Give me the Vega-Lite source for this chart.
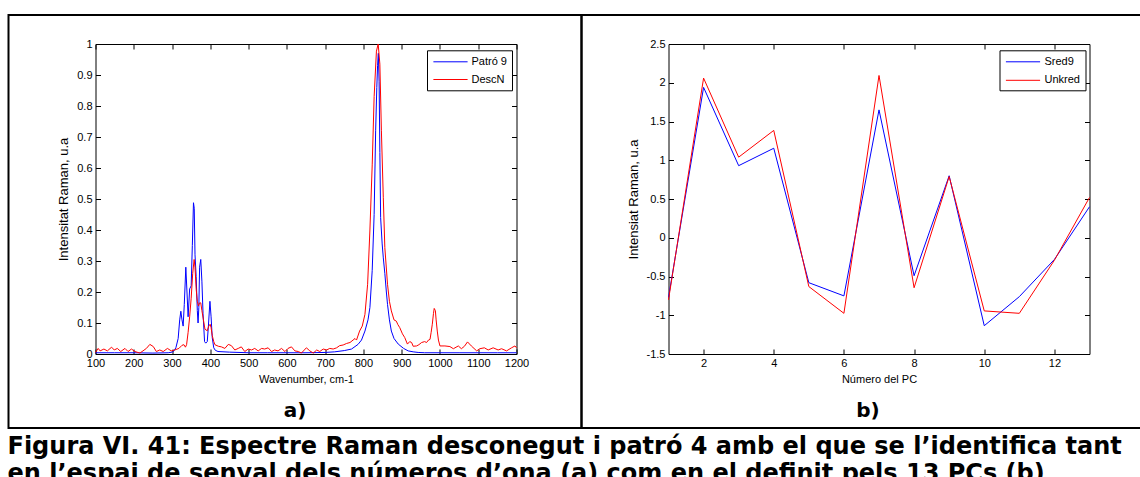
{
  "$schema": "https://vega.github.io/schema/vega-lite/v6.json",
  "padding": {"left": 7.5, "top": 14, "right": 0, "bottom": 0},
  "bounds": "flush",
  "spacing": 0,
  "title": {
    "text": ["Figura VI. 41: Espectre Raman desconegut i patró 4 amb el que se l’identifica tant", "en  l’espai de senyal dels números d’ona (a) com en el definit pels 13 PCs (b)"],
    "orient": "bottom", "anchor": "start", "offset": 6, "font": "DejaVu Sans", "fontSize": 24, "fontWeight": "bold", "color": "black", "lineHeight": 27
  },
  "resolve": {"scale": {"color": "independent"}, "legend": {"color": "independent"}},
  "datasets": {
    "spectra": [
      {"w": 100, "v": 0.004, "s": "Patró 9"}, {"w": 150, "v": 0.004, "s": "Patró 9"}, {"w": 200, "v": 0.004, "s": "Patró 9"}, {"w": 250, "v": 0.003, "s": "Patró 9"}, {"w": 290, "v": 0.004, "s": "Patró 9"}, {"w": 300, "v": 0.006, "s": "Patró 9"}, {"w": 305, "v": 0.01, "s": "Patró 9"}, {"w": 310, "v": 0.02, "s": "Patró 9"}, {"w": 316, "v": 0.05, "s": "Patró 9"}, {"w": 320, "v": 0.11, "s": "Patró 9"}, {"w": 323, "v": 0.138, "s": "Patró 9"}, {"w": 326, "v": 0.11, "s": "Patró 9"}, {"w": 329, "v": 0.09, "s": "Patró 9"}, {"w": 332, "v": 0.16, "s": "Patró 9"}, {"w": 336, "v": 0.28, "s": "Patró 9"}, {"w": 339, "v": 0.2, "s": "Patró 9"}, {"w": 342, "v": 0.12, "s": "Patró 9"}, {"w": 346, "v": 0.21, "s": "Patró 9"}, {"w": 350, "v": 0.22, "s": "Patró 9"}, {"w": 353, "v": 0.35, "s": "Patró 9"}, {"w": 356, "v": 0.488, "s": "Patró 9"}, {"w": 358, "v": 0.47, "s": "Patró 9"}, {"w": 360, "v": 0.32, "s": "Patró 9"}, {"w": 363, "v": 0.25, "s": "Patró 9"}, {"w": 366, "v": 0.14, "s": "Patró 9"}, {"w": 368, "v": 0.1, "s": "Patró 9"}, {"w": 370, "v": 0.15, "s": "Patró 9"}, {"w": 372, "v": 0.28, "s": "Patró 9"}, {"w": 375, "v": 0.305, "s": "Patró 9"}, {"w": 378, "v": 0.235, "s": "Patró 9"}, {"w": 381, "v": 0.13, "s": "Patró 9"}, {"w": 385, "v": 0.04, "s": "Patró 9"}, {"w": 388, "v": 0.035, "s": "Patró 9"}, {"w": 392, "v": 0.04, "s": "Patró 9"}, {"w": 395, "v": 0.09, "s": "Patró 9"}, {"w": 399, "v": 0.17, "s": "Patró 9"}, {"w": 402, "v": 0.12, "s": "Patró 9"}, {"w": 405, "v": 0.053, "s": "Patró 9"}, {"w": 409, "v": 0.02, "s": "Patró 9"}, {"w": 413, "v": 0.012, "s": "Patró 9"}, {"w": 420, "v": 0.008, "s": "Patró 9"}, {"w": 450, "v": 0.006, "s": "Patró 9"}, {"w": 500, "v": 0.004, "s": "Patró 9"}, {"w": 550, "v": 0.004, "s": "Patró 9"}, {"w": 600, "v": 0.004, "s": "Patró 9"}, {"w": 650, "v": 0.004, "s": "Patró 9"}, {"w": 700, "v": 0.005, "s": "Patró 9"}, {"w": 725, "v": 0.007, "s": "Patró 9"}, {"w": 750, "v": 0.011, "s": "Patró 9"}, {"w": 769, "v": 0.016, "s": "Patró 9"}, {"w": 786, "v": 0.031, "s": "Patró 9"}, {"w": 795, "v": 0.045, "s": "Patró 9"}, {"w": 804, "v": 0.074, "s": "Patró 9"}, {"w": 812, "v": 0.11, "s": "Patró 9"}, {"w": 817, "v": 0.15, "s": "Patró 9"}, {"w": 823, "v": 0.27, "s": "Patró 9"}, {"w": 828, "v": 0.45, "s": "Patró 9"}, {"w": 832, "v": 0.72, "s": "Patró 9"}, {"w": 835, "v": 0.86, "s": "Patró 9"}, {"w": 837, "v": 0.93, "s": "Patró 9"}, {"w": 839, "v": 0.97, "s": "Patró 9"}, {"w": 841, "v": 0.88, "s": "Patró 9"}, {"w": 843, "v": 0.65, "s": "Patró 9"}, {"w": 845, "v": 0.44, "s": "Patró 9"}, {"w": 849, "v": 0.355, "s": "Patró 9"}, {"w": 852, "v": 0.31, "s": "Patró 9"}, {"w": 856, "v": 0.26, "s": "Patró 9"}, {"w": 860, "v": 0.2, "s": "Patró 9"}, {"w": 863, "v": 0.16, "s": "Patró 9"}, {"w": 868, "v": 0.11, "s": "Patró 9"}, {"w": 873, "v": 0.074, "s": "Patró 9"}, {"w": 880, "v": 0.05, "s": "Patró 9"}, {"w": 891, "v": 0.032, "s": "Patró 9"}, {"w": 905, "v": 0.018, "s": "Patró 9"}, {"w": 917, "v": 0.01, "s": "Patró 9"}, {"w": 930, "v": 0.007, "s": "Patró 9"}, {"w": 943, "v": 0.005, "s": "Patró 9"}, {"w": 960, "v": 0.004, "s": "Patró 9"}, {"w": 1000, "v": 0.004, "s": "Patró 9"}, {"w": 1050, "v": 0.004, "s": "Patró 9"}, {"w": 1100, "v": 0.004, "s": "Patró 9"}, {"w": 1150, "v": 0.004, "s": "Patró 9"}, {"w": 1200, "v": 0.004, "s": "Patró 9"},
      {"w": 100, "v": 0.005, "s": "DescN"}, {"w": 107, "v": 0.018, "s": "DescN"}, {"w": 112, "v": 0.01, "s": "DescN"}, {"w": 122, "v": 0.016, "s": "DescN"}, {"w": 131, "v": 0.01, "s": "DescN"}, {"w": 142, "v": 0.022, "s": "DescN"}, {"w": 149, "v": 0.013, "s": "DescN"}, {"w": 157, "v": 0.018, "s": "DescN"}, {"w": 166, "v": 0.008, "s": "DescN"}, {"w": 177, "v": 0.018, "s": "DescN"}, {"w": 185, "v": 0.008, "s": "DescN"}, {"w": 194, "v": 0.016, "s": "DescN"}, {"w": 203, "v": 0.008, "s": "DescN"}, {"w": 216, "v": 0.003, "s": "DescN"}, {"w": 224, "v": 0.01, "s": "DescN"}, {"w": 233, "v": 0.018, "s": "DescN"}, {"w": 242, "v": 0.031, "s": "DescN"}, {"w": 251, "v": 0.024, "s": "DescN"}, {"w": 259, "v": 0.008, "s": "DescN"}, {"w": 268, "v": 0.013, "s": "DescN"}, {"w": 277, "v": 0.008, "s": "DescN"}, {"w": 288, "v": 0.018, "s": "DescN"}, {"w": 298, "v": 0.01, "s": "DescN"}, {"w": 307, "v": 0.013, "s": "DescN"}, {"w": 318, "v": 0.018, "s": "DescN"}, {"w": 326, "v": 0.028, "s": "DescN"}, {"w": 331, "v": 0.03, "s": "DescN"}, {"w": 335, "v": 0.022, "s": "DescN"}, {"w": 338, "v": 0.03, "s": "DescN"}, {"w": 342, "v": 0.07, "s": "DescN"}, {"w": 346, "v": 0.12, "s": "DescN"}, {"w": 350, "v": 0.18, "s": "DescN"}, {"w": 354, "v": 0.26, "s": "DescN"}, {"w": 357.7, "v": 0.305, "s": "DescN"}, {"w": 360, "v": 0.28, "s": "DescN"}, {"w": 363, "v": 0.21, "s": "DescN"}, {"w": 366, "v": 0.17, "s": "DescN"}, {"w": 369, "v": 0.155, "s": "DescN"}, {"w": 372, "v": 0.165, "s": "DescN"}, {"w": 375, "v": 0.165, "s": "DescN"}, {"w": 378, "v": 0.14, "s": "DescN"}, {"w": 382, "v": 0.11, "s": "DescN"}, {"w": 386, "v": 0.08, "s": "DescN"}, {"w": 392, "v": 0.075, "s": "DescN"}, {"w": 396, "v": 0.09, "s": "DescN"}, {"w": 399.5, "v": 0.096, "s": "DescN"}, {"w": 402, "v": 0.085, "s": "DescN"}, {"w": 405, "v": 0.06, "s": "DescN"}, {"w": 409, "v": 0.04, "s": "DescN"}, {"w": 412, "v": 0.03, "s": "DescN"}, {"w": 421, "v": 0.025, "s": "DescN"}, {"w": 429, "v": 0.023, "s": "DescN"}, {"w": 438, "v": 0.018, "s": "DescN"}, {"w": 447, "v": 0.031, "s": "DescN"}, {"w": 455, "v": 0.027, "s": "DescN"}, {"w": 464, "v": 0.013, "s": "DescN"}, {"w": 473, "v": 0.018, "s": "DescN"}, {"w": 481, "v": 0.023, "s": "DescN"}, {"w": 490, "v": 0.008, "s": "DescN"}, {"w": 499, "v": 0.016, "s": "DescN"}, {"w": 508, "v": 0.013, "s": "DescN"}, {"w": 516, "v": 0.018, "s": "DescN"}, {"w": 525, "v": 0.01, "s": "DescN"}, {"w": 534, "v": 0.018, "s": "DescN"}, {"w": 542, "v": 0.016, "s": "DescN"}, {"w": 551, "v": 0.02, "s": "DescN"}, {"w": 560, "v": 0.008, "s": "DescN"}, {"w": 568, "v": 0.013, "s": "DescN"}, {"w": 577, "v": 0.01, "s": "DescN"}, {"w": 586, "v": 0.018, "s": "DescN"}, {"w": 595, "v": 0.008, "s": "DescN"}, {"w": 603, "v": 0.018, "s": "DescN"}, {"w": 612, "v": 0.023, "s": "DescN"}, {"w": 621, "v": 0.01, "s": "DescN"}, {"w": 630, "v": 0.008, "s": "DescN"}, {"w": 638, "v": 0.003, "s": "DescN"}, {"w": 651, "v": 0.02, "s": "DescN"}, {"w": 660, "v": 0.01, "s": "DescN"}, {"w": 669, "v": 0.003, "s": "DescN"}, {"w": 678, "v": 0.013, "s": "DescN"}, {"w": 686, "v": 0.008, "s": "DescN"}, {"w": 695, "v": 0.016, "s": "DescN"}, {"w": 704, "v": 0.013, "s": "DescN"}, {"w": 712, "v": 0.018, "s": "DescN"}, {"w": 721, "v": 0.016, "s": "DescN"}, {"w": 730, "v": 0.02, "s": "DescN"}, {"w": 738, "v": 0.027, "s": "DescN"}, {"w": 747, "v": 0.029, "s": "DescN"}, {"w": 756, "v": 0.034, "s": "DescN"}, {"w": 765, "v": 0.037, "s": "DescN"}, {"w": 773, "v": 0.045, "s": "DescN"}, {"w": 778, "v": 0.05, "s": "DescN"}, {"w": 782, "v": 0.045, "s": "DescN"}, {"w": 790, "v": 0.074, "s": "DescN"}, {"w": 797, "v": 0.09, "s": "DescN"}, {"w": 804, "v": 0.128, "s": "DescN"}, {"w": 811, "v": 0.225, "s": "DescN"}, {"w": 817, "v": 0.4, "s": "DescN"}, {"w": 823, "v": 0.61, "s": "DescN"}, {"w": 828, "v": 0.83, "s": "DescN"}, {"w": 834, "v": 0.977, "s": "DescN"}, {"w": 838.6, "v": 1.0, "s": "DescN"}, {"w": 843, "v": 0.935, "s": "DescN"}, {"w": 847, "v": 0.72, "s": "DescN"}, {"w": 852, "v": 0.504, "s": "DescN"}, {"w": 856, "v": 0.343, "s": "DescN"}, {"w": 863, "v": 0.225, "s": "DescN"}, {"w": 868, "v": 0.17, "s": "DescN"}, {"w": 873, "v": 0.139, "s": "DescN"}, {"w": 880, "v": 0.11, "s": "DescN"}, {"w": 886, "v": 0.106, "s": "DescN"}, {"w": 890, "v": 0.095, "s": "DescN"}, {"w": 895, "v": 0.085, "s": "DescN"}, {"w": 902, "v": 0.065, "s": "DescN"}, {"w": 908, "v": 0.053, "s": "DescN"}, {"w": 915, "v": 0.032, "s": "DescN"}, {"w": 921, "v": 0.04, "s": "DescN"}, {"w": 926, "v": 0.037, "s": "DescN"}, {"w": 930, "v": 0.025, "s": "DescN"}, {"w": 939, "v": 0.026, "s": "DescN"}, {"w": 945, "v": 0.03, "s": "DescN"}, {"w": 952, "v": 0.037, "s": "DescN"}, {"w": 960, "v": 0.04, "s": "DescN"}, {"w": 965, "v": 0.037, "s": "DescN"}, {"w": 970, "v": 0.045, "s": "DescN"}, {"w": 974, "v": 0.047, "s": "DescN"}, {"w": 977, "v": 0.07, "s": "DescN"}, {"w": 980, "v": 0.096, "s": "DescN"}, {"w": 983, "v": 0.13, "s": "DescN"}, {"w": 985, "v": 0.147, "s": "DescN"}, {"w": 988, "v": 0.14, "s": "DescN"}, {"w": 990, "v": 0.11, "s": "DescN"}, {"w": 993, "v": 0.074, "s": "DescN"}, {"w": 996, "v": 0.045, "s": "DescN"}, {"w": 1000, "v": 0.026, "s": "DescN"}, {"w": 1013, "v": 0.026, "s": "DescN"}, {"w": 1026, "v": 0.024, "s": "DescN"}, {"w": 1035, "v": 0.017, "s": "DescN"}, {"w": 1048, "v": 0.026, "s": "DescN"}, {"w": 1056, "v": 0.017, "s": "DescN"}, {"w": 1064, "v": 0.025, "s": "DescN"}, {"w": 1072, "v": 0.039, "s": "DescN"}, {"w": 1082, "v": 0.026, "s": "DescN"}, {"w": 1096, "v": 0.01, "s": "DescN"}, {"w": 1104, "v": 0.017, "s": "DescN"}, {"w": 1116, "v": 0.02, "s": "DescN"}, {"w": 1126, "v": 0.013, "s": "DescN"}, {"w": 1139, "v": 0.02, "s": "DescN"}, {"w": 1152, "v": 0.013, "s": "DescN"}, {"w": 1161, "v": 0.017, "s": "DescN"}, {"w": 1174, "v": 0.01, "s": "DescN"}, {"w": 1187, "v": 0.02, "s": "DescN"}, {"w": 1196, "v": 0.026, "s": "DescN"}, {"w": 1200, "v": 0.02, "s": "DescN"}
    ],
    "pcs": [
      {"pc": 1, "v": -0.77, "s": "Sred9"}, {"pc": 2, "v": 1.94, "s": "Sred9"}, {"pc": 3, "v": 0.93, "s": "Sred9"}, {"pc": 4, "v": 1.155, "s": "Sred9"}, {"pc": 5, "v": -0.58, "s": "Sred9"}, {"pc": 6, "v": -0.75, "s": "Sred9"}, {"pc": 7, "v": 1.65, "s": "Sred9"}, {"pc": 8, "v": -0.49, "s": "Sred9"}, {"pc": 9, "v": 0.8, "s": "Sred9"}, {"pc": 10, "v": -1.135, "s": "Sred9"}, {"pc": 11, "v": -0.76, "s": "Sred9"}, {"pc": 12, "v": -0.28, "s": "Sred9"}, {"pc": 13, "v": 0.4, "s": "Sred9"},
      {"pc": 1, "v": -0.8, "s": "Unkred"}, {"pc": 2, "v": 2.06, "s": "Unkred"}, {"pc": 3, "v": 1.04, "s": "Unkred"}, {"pc": 4, "v": 1.385, "s": "Unkred"}, {"pc": 5, "v": -0.63, "s": "Unkred"}, {"pc": 6, "v": -0.975, "s": "Unkred"}, {"pc": 7, "v": 2.094, "s": "Unkred"}, {"pc": 8, "v": -0.645, "s": "Unkred"}, {"pc": 9, "v": 0.79, "s": "Unkred"}, {"pc": 10, "v": -0.944, "s": "Unkred"}, {"pc": 11, "v": -0.975, "s": "Unkred"}, {"pc": 12, "v": -0.29, "s": "Unkred"}, {"pc": 13, "v": 0.52, "s": "Unkred"}
    ]
  },
  "hconcat": [
    {
      "width": 573, "height": 413,
      "title": {"text": "a)", "orient": "bottom", "offset": -27, "font": "DejaVu Sans", "fontSize": 20, "fontWeight": "bold", "color": "black", "anchor": "middle", "frame": "group"},
      "data": {"name": "spectra"},
      "layer": [
        {
          "transform": [{"filter": "datum.s === 'Patró 9'"}],
          "mark": {"type": "line", "strokeWidth": 1},
          "encoding": {
            "x": {"field": "w", "type": "quantitative", "scale": {"domain": [100, 1200], "range": [87, 508], "nice": false, "zero": false},
                  "axis": {"orient": "bottom", "offset": -74, "values": [100, 200, 300, 400, 500, 600, 700, 800, 900, 1000, 1100, 1200], "labelExpr": "toString(datum.value)", "title": "Wavenumber, cm-1"}},
            "y": {"field": "v", "type": "quantitative", "scale": {"domain": [0, 1], "range": [339, 29], "nice": false, "zero": false},
                  "axis": {"orient": "left", "offset": -87, "values": [0, 0.1, 0.2, 0.3, 0.4, 0.5, 0.6, 0.7, 0.8, 0.9, 1], "labelExpr": "toString(datum.value)", "title": "Intensitat Raman, u.a"}},
            "color": {"field": "s", "type": "nominal", "scale": {"domain": ["Patró 9", "DescN"], "range": ["#0000ff", "#ff0000"]},
                      "legend": {"orient": "none", "legendX": 418.5, "legendY": 35.3, "title": null, "symbolType": "M-2.85,0H2.85", "symbolSize": 144, "symbolOffset": 12, "labelOffset": 14.5, "labelAlign": "left", "rowPadding": 5.7}}
          }
        },
        {
          "transform": [{"filter": "datum.s === 'DescN'"}],
          "mark": {"type": "line", "strokeWidth": 1},
          "encoding": {
            "x": {"field": "w", "type": "quantitative", "axis": {"orient": "top", "offset": -29, "values": [100, 200, 300, 400, 500, 600, 700, 800, 900, 1000, 1100, 1200], "labels": false, "title": null}},
            "y": {"field": "v", "type": "quantitative", "axis": {"orient": "right", "offset": -65, "values": [0, 0.1, 0.2, 0.3, 0.4, 0.5, 0.6, 0.7, 0.8, 0.9, 1], "labels": false, "title": null}},
            "color": {"field": "s", "type": "nominal"}
          }
        }
      ],
      "resolve": {"axis": {"x": "independent", "y": "independent"}}
    },
    {
      "width": 573, "height": 413,
      "title": {"text": "b)", "orient": "bottom", "offset": -27, "font": "DejaVu Sans", "fontSize": 20, "fontWeight": "bold", "color": "black", "anchor": "middle", "frame": "group"},
      "data": {"name": "pcs"},
      "layer": [
        {
          "transform": [{"filter": "datum.s === 'Sred9'"}],
          "mark": {"type": "line", "strokeWidth": 1},
          "encoding": {
            "x": {"field": "pc", "type": "quantitative", "scale": {"domain": [1, 13], "range": [87, 508], "nice": false, "zero": false},
                  "axis": {"orient": "bottom", "offset": -74, "values": [2, 4, 6, 8, 10, 12], "title": "Número del PC"}},
            "y": {"field": "v", "type": "quantitative", "scale": {"domain": [-1.5, 2.5], "range": [339, 29], "nice": false, "zero": false},
                  "axis": {"orient": "left", "offset": -87, "values": [-1.5, -1, -0.5, 0, 0.5, 1, 1.5, 2, 2.5], "labelExpr": "toString(datum.value)", "title": "Intensiat Raman, u.a"}},
            "color": {"field": "s", "type": "nominal", "scale": {"domain": ["Sred9", "Unkred"], "range": ["#0000ff", "#ff0000"]},
                      "legend": {"orient": "none", "legendX": 418, "legendY": 35.3, "title": null, "symbolType": "M-2.85,0H2.85", "symbolSize": 144, "symbolOffset": 12, "labelOffset": 15, "labelAlign": "left", "rowPadding": 6.5}}
          }
        },
        {
          "transform": [{"filter": "datum.s === 'Unkred'"}],
          "mark": {"type": "line", "strokeWidth": 1},
          "encoding": {
            "x": {"field": "pc", "type": "quantitative", "axis": {"orient": "top", "offset": -29, "values": [2, 4, 6, 8, 10, 12], "labels": false, "title": null}},
            "y": {"field": "v", "type": "quantitative", "axis": {"orient": "right", "offset": -65, "values": [-1.5, -1, -0.5, 0, 0.5, 1, 1.5, 2, 2.5], "labels": false, "title": null}},
            "color": {"field": "s", "type": "nominal"}
          }
        }
      ],
      "resolve": {"axis": {"x": "independent", "y": "independent"}}
    }
  ],
  "config": {
    "font": "Liberation Sans",
    "view": {"stroke": "black", "strokeWidth": 2},
    "axis": {"grid": false, "domainColor": "black", "domainWidth": 1, "tickColor": "black", "tickWidth": 1, "tickSize": -5, "labelFont": "Liberation Sans", "labelFontSize": 11, "labelColor": "black", "titleFont": "Liberation Sans", "titleFontWeight": "normal", "titleColor": "black", "labelFlush": false, "labelOverlap": false},
    "axisX": {"titleFontSize": 11, "labelPadding": 8, "titlePadding": 5},
    "axisY": {"titleFontSize": 13, "labelPadding": 8.5, "titlePadding": 6},
    "legend": {"strokeColor": "black", "fillColor": "white", "padding": 5, "labelFont": "Liberation Sans", "labelFontSize": 11, "labelColor": "black", "symbolStrokeWidth": 1, "cornerRadius": 0}
  }
}
